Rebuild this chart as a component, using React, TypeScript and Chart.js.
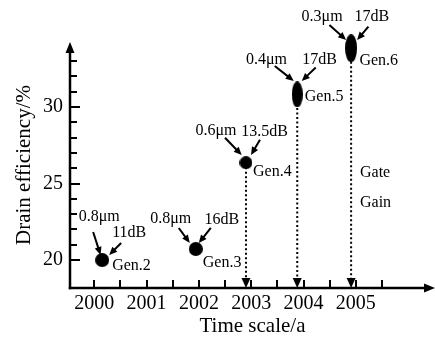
import { useEffect, useRef } from 'react';
import { Chart, registerables } from 'chart.js';

Chart.register(...registerables);

// ---------------- data ----------------
const years = [2000.15, 2001.94, 2002.9, 2003.88, 2004.91];
const efficiency = [20.0, 20.72, 26.36, 30.82, 33.84];
const gateLengths = ['0.8μm', '0.8μm', '0.6μm', '0.4μm', '0.3μm'];
const gains = ['11dB', '16dB', '13.5dB', '17dB', '17dB'];
const generations = ['Gen.2', 'Gen.3', 'Gen.4', 'Gen.5', 'Gen.6'];
const dropToAxis = [false, false, true, true, true];
const xTickValues = [2000, 2000.5, 2001, 2001.5, 2002, 2002.5, 2003, 2003.5, 2004, 2004.5, 2005, 2005.5];
const xTickLabels = ['2000', '2001', '2002', '2003', '2004', '2005'];
const yTickValues = [20, 21, 22, 23, 24, 25, 26, 27, 28, 29, 30, 31, 32, 33];
const yTickLabels = ['20', '25', '30'];
const xAxisTitle = 'Time scale/a';
const yAxisTitle = 'Drain efficiency/%';
const noteTexts = ['Gate', 'Gain'];
const xRange = [1999.535, 2006.514];
const yRange = [18.17, 34.25];

// ---------------- layout / style ----------------
const FONT = '"Liberation Serif", "Times New Roman", serif';
const notePos = { x: 2005.08, y: [25.69, 23.73] };
// marker sizes (w,h) in px
const markerSizes = [
  [14, 14],
  [14, 14],
  [13, 13],
  [11, 26],
  [12, 28],
];
// label offsets relative to each point, in px
const labelLayout = [
  { gate: [-3, -43], gain: [27, -27], gen: [10, 6], a1: [-9, -28, -1.6, -5], a2: [19, -17, 7, -5] },
  { gate: [-25, -30], gain: [26, -29], gen: [7, 14], a1: [-17, -21, -6, -6], a2: [15, -21, 3, -6] },
  { gate: [-30, -32], gain: [18.5, -31], gen: [7, 9], a1: [-21, -25, -4.3, -7.7], a2: [14, -23, 5, -7.7] },
  { gate: [-30.7, -35], gain: [22.3, -35], gen: [7.5, 2], a1: [-22.5, -28.5, -3.5, -13.5], a2: [18.5, -27, 4.5, -13.5] },
  { gate: [-29, -31.6], gain: [20.6, -31.6], gen: [8.3, 12.7], a1: [-21.7, -23.3, -5, -8.3], a2: [17.3, -21.6, 6, -8.3] },
];

function makeMarker(w: number, h: number) {
  const c = document.createElement('canvas');
  c.width = w;
  c.height = h;
  const ctx = c.getContext('2d')!;
  ctx.fillStyle = '#000';
  ctx.beginPath();
  ctx.ellipse(w / 2, h / 2, w / 2, h / 2, 0, 0, Math.PI * 2);
  ctx.fill();
  return c;
}

function arrow(ctx: CanvasRenderingContext2D, x1: number, y1: number, x2: number, y2: number, head: number, width: number) {
  const ang = Math.atan2(y2 - y1, x2 - x1);
  const bx = x2 - head * Math.cos(ang);
  const by = y2 - head * Math.sin(ang);
  ctx.beginPath();
  ctx.moveTo(x1, y1);
  ctx.lineTo(bx + Math.cos(ang), by + Math.sin(ang));
  ctx.stroke();
  ctx.beginPath();
  ctx.moveTo(x2, y2);
  ctx.lineTo(bx + (width / 2) * Math.sin(ang), by - (width / 2) * Math.cos(ang));
  ctx.lineTo(bx - (width / 2) * Math.sin(ang), by + (width / 2) * Math.cos(ang));
  ctx.closePath();
  ctx.fill();
}

const overlay = {
  id: 'overlay',
  afterDraw(chart: any) {
    const { ctx, chartArea: a, scales } = chart;
    const xs = scales.x;
    const ys = scales.y;
    ctx.save();
    ctx.strokeStyle = '#000';
    ctx.fillStyle = '#000';

    // axes with arrows
    ctx.lineWidth = 2.5;
    arrow(ctx, a.left, a.bottom + 1.25, a.left, a.top, 11, 9);
    arrow(ctx, a.left - 1.25, a.bottom, a.right, a.bottom, 11, 9);

    // inward ticks
    ctx.lineWidth = 2;
    yTickValues.forEach((v) => {
      const y = Math.round(ys.getPixelForValue(v));
      const len = yTickLabels.includes(String(v)) ? 10 : 7;
      ctx.beginPath();
      ctx.moveTo(a.left, y);
      ctx.lineTo(a.left + len, y);
      ctx.stroke();
    });
    xTickValues.forEach((v) => {
      const x = Math.round(xs.getPixelForValue(v));
      ctx.beginPath();
      ctx.moveTo(x, a.bottom);
      ctx.lineTo(x, a.bottom - 8);
      ctx.stroke();
    });

    const meta = chart.getDatasetMeta(0);
    // dotted drop lines with arrowheads
    meta.data.forEach((pt: any, i: number) => {
      if (!dropToAxis[i]) return;
      ctx.lineWidth = 2;
      ctx.setLineDash([2, 2.5]);
      ctx.beginPath();
      ctx.moveTo(pt.x, pt.y);
      ctx.lineTo(pt.x, a.bottom - 10);
      ctx.stroke();
      ctx.setLineDash([]);
      ctx.beginPath();
      ctx.moveTo(pt.x, a.bottom);
      ctx.lineTo(pt.x - 4.5, a.bottom - 10);
      ctx.lineTo(pt.x + 4.5, a.bottom - 10);
      ctx.closePath();
      ctx.fill();
    });

    // annotation labels and arrows
    ctx.font = `16px ${FONT}`;
    ctx.textBaseline = 'middle';
    meta.data.forEach((pt: any, i: number) => {
      const L = labelLayout[i];
      ctx.textAlign = 'center';
      ctx.fillText(gateLengths[i], pt.x + L.gate[0], pt.y + L.gate[1]);
      ctx.fillText(gains[i], pt.x + L.gain[0], pt.y + L.gain[1]);
      ctx.textAlign = 'left';
      ctx.fillText(generations[i], pt.x + L.gen[0], pt.y + L.gen[1]);
      ctx.lineWidth = 2;
      arrow(ctx, pt.x + L.a1[0], pt.y + L.a1[1], pt.x + L.a1[2], pt.y + L.a1[3], 8, 7);
      arrow(ctx, pt.x + L.a2[0], pt.y + L.a2[1], pt.x + L.a2[2], pt.y + L.a2[3], 8, 7);
    });

    // Gate / Gain notes
    ctx.textAlign = 'left';
    noteTexts.forEach((t, i) => {
      ctx.fillText(t, xs.getPixelForValue(notePos.x), ys.getPixelForValue(notePos.y[i]));
    });
    ctx.restore();
  },
};

export default function App() {
  const ref = useRef<HTMLCanvasElement>(null);
  useEffect(() => {
    const canvas = ref.current;
    if (!canvas) return;
    const markers = markerSizes.map(([w, h]) => makeMarker(w, h));
    const chart = new Chart(canvas, {
      type: 'scatter',
      data: {
        datasets: [
          {
            data: years.map((x, i) => ({ x, y: efficiency[i] })),
            pointStyle: markers as any,
            pointRadius: 7,
            backgroundColor: '#000',
            borderColor: '#000',
            clip: false as any,
          },
        ],
      },
      options: {
        responsive: false,
        animation: false,
        events: [],
        layout: { autoPadding: false, padding: { top: 42, right: 0, left: 0, bottom: 0 } },
        plugins: { legend: { display: false }, tooltip: { enabled: false } },
        scales: {
          x: {
            type: 'linear',
            min: xRange[0],
            max: xRange[1],
            grid: { display: false, drawTicks: false },
            border: { display: false },
            afterBuildTicks: (s: any) => {
              s.ticks = xTickValues.map((value) => ({ value }));
            },
            afterFit: (s: any) => {
              s.height = 52;
            },
            ticks: {
              autoSkip: false,
              maxRotation: 0,
              minRotation: 0,
              padding: 4,
              color: '#000',
              font: { family: FONT, size: 20 },
              callback: (v: any) => (xTickLabels.includes(String(v)) ? String(v) : ''),
            },
            title: {
              display: true,
              text: xAxisTitle,
              color: '#000',
              font: { family: FONT, size: 21 },
              padding: { top: 0, bottom: 1 },
            },
          },
          y: {
            type: 'linear',
            min: yRange[0],
            max: yRange[1],
            grid: { display: false, drawTicks: false },
            border: { display: false },
            afterBuildTicks: (s: any) => {
              s.ticks = yTickValues.map((value) => ({ value }));
            },
            afterFit: (s: any) => {
              s.width = 70;
            },
            ticks: {
              autoSkip: false,
              padding: 7,
              color: '#000',
              font: { family: FONT, size: 20 },
              callback: (v: any) => (yTickLabels.includes(String(v)) ? String(v) : ''),
            },
            title: {
              display: true,
              text: yAxisTitle,
              color: '#000',
              font: { family: FONT, size: 21 },
              padding: { top: 12, bottom: 0 },
            },
          },
        },
      },
      plugins: [overlay],
    });
    return () => chart.destroy();
  }, []);
  return (
    <div style={{ position: 'absolute', left: 0, top: 0, width: 435, height: 340, background: '#fff' }}>
      <canvas ref={ref} width={435} height={340} />
    </div>
  );
}
